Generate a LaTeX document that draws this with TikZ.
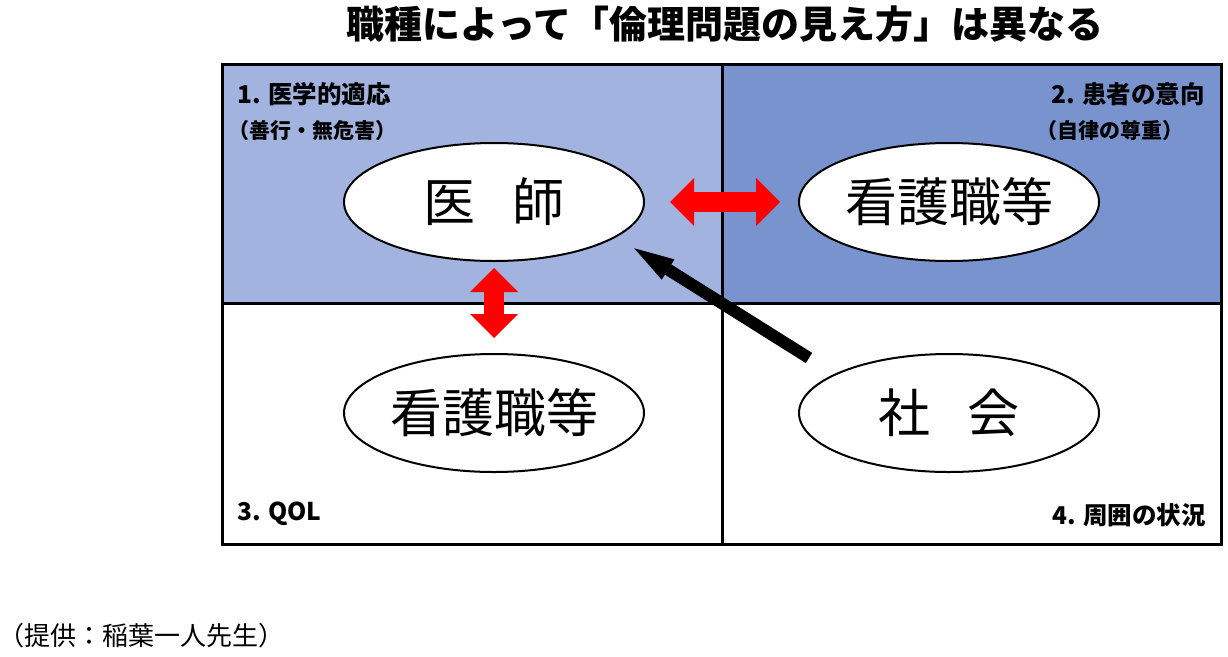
\documentclass[tikz,border=0pt]{standalone}
\usepackage{fontspec}
\setmainfont{Noto Sans CJK JP}
\usetikzlibrary{positioning, arrows.meta, shapes.geometric}
\usepackage{xcolor}
\definecolor{lowblue}{RGB}{161,179,222}
\definecolor{highblue}{RGB}{121,147,207}

\begin{document}
\begin{tikzpicture}[x=1pt,y=-1pt,
    role/.style={ellipse,
        draw=black,
        line width=2pt,
        fill=white,
        minimum width=300pt,
        minimum height=118pt,
        inner sep=0pt,
        font=\fontsize{52}{52}\selectfont},
    headline/.style={inner sep=0pt,font=\bfseries\fontsize{24.5}{24.5}\selectfont},
    subline/.style={inner sep=0pt,font=\bfseries\fontsize{21}{21}\selectfont},
    twoway/.style={draw=red,
        line width=20pt,
        {Triangle[width=48pt,length=24pt,line width=0pt]}-{Triangle[width=48pt,length=24pt,line width=0pt]}},
    push/.style={draw=black,
        line width=12pt,
        -{Triangle[width=24pt,length=40pt,line width=0pt]}}
    ]
    \useasboundingbox (0,0) rectangle (1228,656);
    % quadrants
    \fill[lowblue] (222,64) rectangle (722,303);
    \fill[highblue] (722,64) rectangle (1221,303);
    \draw[line width=3pt] (222,64) rectangle (1221,544);
    \draw[line width=3pt] (722,64) -- (722,544);
    \draw[line width=3pt] (222,303) -- (1221,303);
    % title and source
    \node[font=\bfseries\fontsize{38}{38}\selectfont] (title) at (725,24)
        {職種によって「倫理問題の見え方」は異なる};
    \node[anchor=west,
        inner sep=0pt,
        font=\fontsize{26}{26}\selectfont
        ] (source) at (-2,636) {（提供：稲葉一人先生）};
    % quadrant labels
    \node[headline,anchor=west] (q1) at (237,94) {1. 医学的適応};
    \node[subline,anchor=west] (q1sub) at (228,131) {（善行・無危害）};
    \node[headline,anchor=east] (q2) at (1205,94) {2. 患者の意向};
    \node[subline,anchor=east] (q2sub) at (1184,131) {（自律の尊重）};
    \node[headline,anchor=west] (q3) at (237,514) {3. QOL};
    \node[headline,anchor=east] (q4) at (1206,515) {4. 周囲の状況};
    % the roles
    \node[role] (ishi) at (494,202) {医\hspace{0.7em}師};
    \node[role,
        right=153pt of ishi
        ] (kango1) {看護職等};
    \node[role,
        below=91pt of ishi
        ] (kango2) {看護職等};
    \node[role,
        right=153pt of kango2
        ] (shakai) {社\hspace{0.7em}会};
    \coordinate (rush) at (809,358);

    \draw[twoway,shorten <=25pt,shorten >=18pt] (ishi) -- (kango1);
    \draw[twoway,shorten <=6pt,shorten >=15pt] (ishi) -- (kango2);
    \draw[push,shorten >=21pt] (rush) -- (ishi.-16);
\end{tikzpicture}
\end{document}
